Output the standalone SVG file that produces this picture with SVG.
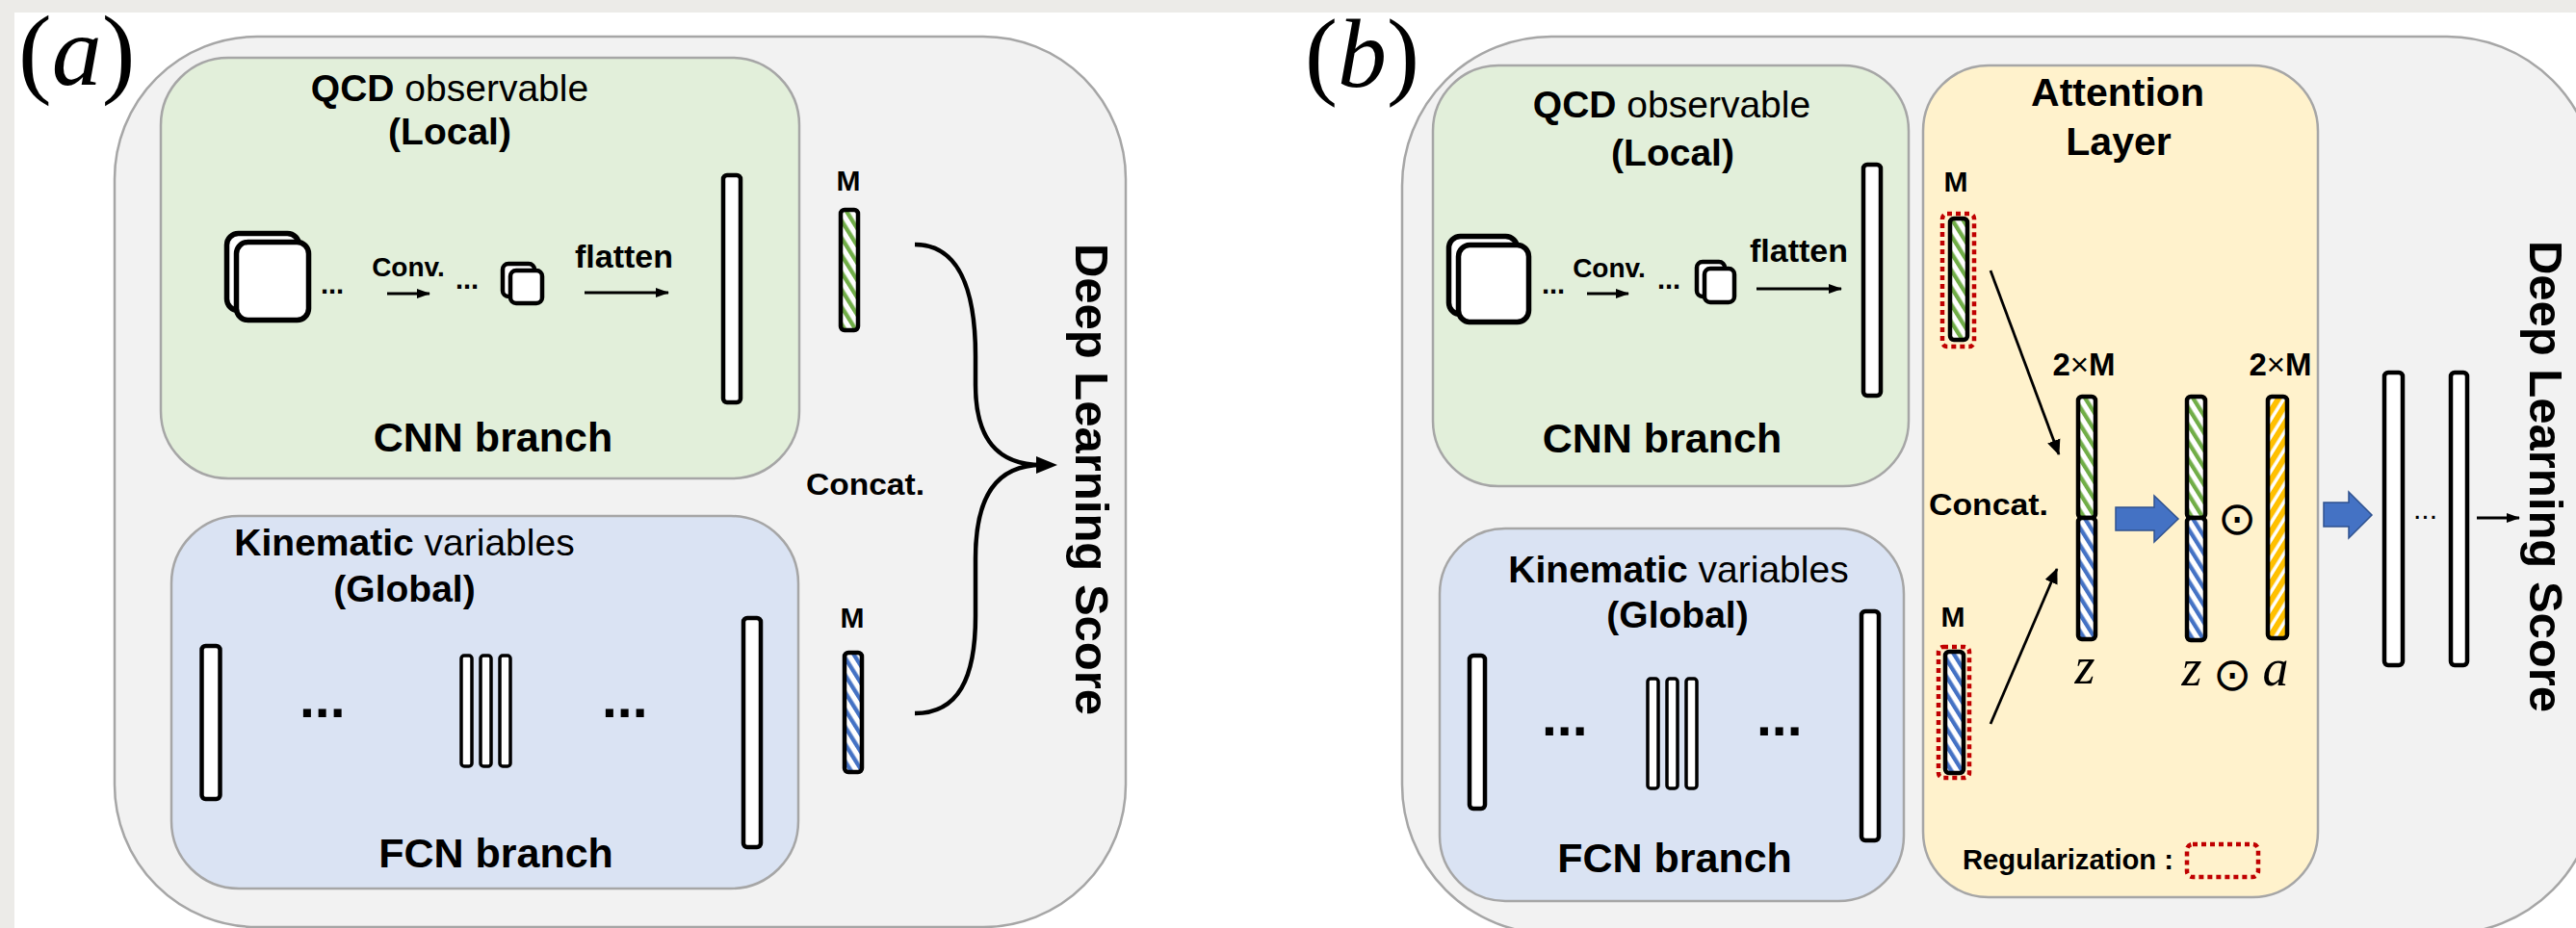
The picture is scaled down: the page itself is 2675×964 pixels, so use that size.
<svg xmlns="http://www.w3.org/2000/svg" width="2675" height="964" viewBox="0 0 2675 964">
<style>
text{font-family:"Liberation Sans",Arial,sans-serif;fill:#000}
.b{font-weight:bold}
.serif{font-family:"Liberation Serif","Times New Roman",serif}
.outer{fill:#f2f2f2;stroke:#a6a6a6;stroke-width:2.5}
.grn{fill:#e2efda;stroke:#a6a6a6;stroke-width:2.5}
.blu{fill:#dae3f3;stroke:#a6a6a6;stroke-width:2.5}
.att{fill:#fff2cc;stroke:#a6a6a6;stroke-width:2.5}
.bar{fill:#fff;stroke:#000;stroke-width:4.5}
.thin{fill:#fff;stroke:#000;stroke-width:3.5}
.sq{fill:#fff;stroke:#000;stroke-width:5.5}
.sqs{fill:#fff;stroke:#000;stroke-width:4.5}
.hg{fill:url(#pg);stroke:#000;stroke-width:4.5}
.hb{fill:url(#pb);stroke:#000;stroke-width:4.5}
.hy{fill:url(#py);stroke:#000;stroke-width:4.5}
.reg{fill:none;stroke:#c00000;stroke-width:4.5;stroke-dasharray:5 4}
.arr{fill:none;stroke:#000;stroke-width:2.8}
.blk{fill:#4472c4;stroke:#2f528f;stroke-width:1.5}
.brace{fill:none;stroke:#000;stroke-width:4.5}
</style>
<defs>
<pattern id="pg" width="9.5" height="9.5" patternUnits="userSpaceOnUse" patternTransform="rotate(-32)"><rect width="9.5" height="9.5" fill="#fff"/><rect width="4.3" height="9.5" fill="#70ad47"/></pattern>
<pattern id="pb" width="9.5" height="9.5" patternUnits="userSpaceOnUse" patternTransform="rotate(-32)"><rect width="9.5" height="9.5" fill="#fff"/><rect width="4.3" height="9.5" fill="#4472c4"/></pattern>
<pattern id="py" width="9.5" height="9.5" patternUnits="userSpaceOnUse" patternTransform="rotate(32)"><rect width="9.5" height="9.5" fill="#fff"/><rect width="6" height="9.5" fill="#ffc000"/></pattern>
<marker id="ah" markerUnits="userSpaceOnUse" markerWidth="16" markerHeight="16" viewBox="0 0 16 16" refX="15" refY="8" orient="auto"><path d="M0,1 L16,8 L0,15 z" fill="#000"/></marker>
<marker id="ahs" markerUnits="userSpaceOnUse" markerWidth="14" markerHeight="12" viewBox="0 0 14 12" refX="13" refY="6" orient="auto"><path d="M0,1 L14,6 L0,11 z" fill="#000"/></marker>
</defs>

<rect width="2675" height="964" fill="#fff"/>
<rect width="2675" height="13" fill="#ecebe8"/>
<rect width="15" height="964" fill="#ecebe8"/>

<!-- Panel (a) -->
<g id="label-a"><text class="serif" x="19" y="88" font-size="104">(<tspan font-style="italic">a</tspan>)</text></g>
<g id="outer-a"><rect class="outer" x="119" y="38" width="1050" height="925" rx="148"/></g>

<g id="cnn-a">
<rect class="grn" x="167" y="60" width="663" height="437" rx="70"/>
<text x="467" y="105" font-size="39" text-anchor="middle"><tspan class="b">QCD</tspan> observable</text>
<text class="b" x="467" y="150" font-size="39" text-anchor="middle">(Local)</text>
<rect class="sq" x="235.5" y="242.5" width="75" height="80" rx="12"/>
<rect class="sq" x="245.5" y="251.5" width="75" height="81" rx="12"/>
<text class="b" x="333" y="305" font-size="29">...</text>
<text class="b" x="424" y="287" font-size="28" text-anchor="middle">Conv.</text>
<text class="b" x="473" y="300" font-size="29">...</text>
<rect class="sqs" x="522" y="274" width="33" height="34" rx="6"/>
<rect class="sqs" x="530" y="281" width="33" height="34" rx="6"/>
<text class="b" x="648" y="278" font-size="34" text-anchor="middle">flatten</text>
<rect class="bar" x="751" y="182" width="18" height="236" rx="4"/>
<text class="b" x="512" y="469" font-size="43" text-anchor="middle">CNN branch</text>
</g>

<g id="fcn-a">
<rect class="blu" x="178" y="536" width="651" height="387" rx="70"/>
<text x="420" y="577" font-size="39" text-anchor="middle"><tspan class="b">Kinematic</tspan> variables</text>
<text class="b" x="420" y="625" font-size="39" text-anchor="middle">(Global)</text>
<rect class="bar" x="209.5" y="671" width="19" height="159" rx="4"/>
<text class="b" x="311" y="745" font-size="57">...</text>
<rect class="thin" x="479" y="681" width="11" height="115" rx="3"/>
<rect class="thin" x="499" y="681" width="11" height="115" rx="3"/>
<rect class="thin" x="519" y="681" width="11" height="115" rx="3"/>
<text class="b" x="625" y="745" font-size="57">...</text>
<rect class="bar" x="772" y="642" width="18" height="238" rx="4"/>
<text class="b" x="515" y="901" font-size="43" text-anchor="middle">FCN branch</text>
</g>

<g id="m-green-a">
<text class="b" x="881" y="198" font-size="30" text-anchor="middle">M</text>
<rect class="hg" x="873" y="218" width="18" height="125" rx="4"/>
</g>
<g id="m-blue-a">
<text class="b" x="885" y="652" font-size="30" text-anchor="middle">M</text>
<rect class="hb" x="877" y="678" width="18" height="124" rx="4"/>
</g>
<g id="concat-a"><text class="b" x="837" y="514" font-size="31" textLength="123" lengthAdjust="spacingAndGlyphs">Concat.</text></g>
<g id="score-a"><text class="b" font-size="49" text-anchor="middle" transform="translate(1117,498) rotate(90)">Deep Learning Score</text></g>

<!-- Panel (b) -->
<g id="label-b"><text class="serif" x="1355" y="90" font-size="102">(<tspan font-style="italic">b</tspan>)</text></g>
<g id="outer-b"><rect class="outer" x="1456" y="38" width="1240" height="932" rx="155"/></g>

<g id="cnn-b">
<rect class="grn" x="1488" y="68" width="494" height="437" rx="68"/>
<text x="1736" y="122" font-size="39" text-anchor="middle"><tspan class="b">QCD</tspan> observable</text>
<text class="b" x="1737" y="172" font-size="39" text-anchor="middle">(Local)</text>
<rect class="sq" x="1504.5" y="245.5" width="71" height="81" rx="12"/>
<rect class="sq" x="1514.5" y="254.5" width="73" height="80" rx="12"/>
<text class="b" x="1601" y="305" font-size="29">...</text>
<text class="b" x="1671" y="288" font-size="28" text-anchor="middle">Conv.</text>
<text class="b" x="1721" y="300" font-size="29">...</text>
<rect class="sqs" x="1762" y="272" width="29" height="36" rx="6"/>
<rect class="sqs" x="1770" y="279" width="31" height="35" rx="6"/>
<text class="b" x="1868" y="272" font-size="34" text-anchor="middle">flatten</text>
<rect class="bar" x="1935" y="171" width="18" height="240" rx="4"/>
<text class="b" x="1726" y="470" font-size="43" text-anchor="middle">CNN branch</text>
</g>

<g id="fcn-b">
<rect class="blu" x="1495" y="549" width="482" height="387" rx="68"/>
<text x="1743" y="605" font-size="39" text-anchor="middle"><tspan class="b">Kinematic</tspan> variables</text>
<text class="b" x="1742" y="652" font-size="39" text-anchor="middle">(Global)</text>
<rect class="bar" x="1526" y="681" width="16" height="159" rx="4"/>
<text class="b" x="1601" y="764" font-size="57">...</text>
<rect class="thin" x="1711" y="705" width="11" height="114" rx="3"/>
<rect class="thin" x="1731" y="705" width="11" height="114" rx="3"/>
<rect class="thin" x="1751" y="705" width="11" height="114" rx="3"/>
<text class="b" x="1824" y="764" font-size="57">...</text>
<rect class="bar" x="1933" y="635" width="18" height="238" rx="4"/>
<text class="b" x="1739" y="906" font-size="43" text-anchor="middle">FCN branch</text>
</g>

<g id="attention-b">
<rect class="att" x="1997" y="68" width="410" height="864" rx="68"/>
<text class="b" x="2199" y="110" font-size="41" text-anchor="middle">Attention</text>
<text class="b" x="2200" y="161" font-size="41" text-anchor="middle">Layer</text>
<text class="b" x="2031" y="199" font-size="30" text-anchor="middle">M</text>
<rect class="hg" x="2025" y="227" width="18" height="126" rx="4"/>
<rect class="reg" x="2017" y="222" width="33" height="138" rx="5"/>
<text class="b" x="2028" y="651" font-size="30" text-anchor="middle">M</text>
<rect class="hb" x="2020" y="677" width="19" height="126" rx="4"/>
<rect class="reg" x="2013" y="672" width="32" height="136" rx="5"/>
<text class="b" x="2003" y="535" font-size="31" textLength="124" lengthAdjust="spacingAndGlyphs">Concat.</text>
<text class="b" x="2164" y="390" font-size="33" text-anchor="middle">2<tspan font-weight="normal">×</tspan>M</text>
<text class="b" x="2368" y="390" font-size="33" text-anchor="middle">2<tspan font-weight="normal">×</tspan>M</text>
<rect class="hg" x="2158" y="412" width="18" height="126" rx="4"/>
<rect class="hb" x="2158" y="538" width="18" height="126" rx="4"/>
<rect class="hg" x="2271" y="412" width="19" height="126" rx="4"/>
<rect class="hb" x="2271" y="538" width="19" height="127" rx="4"/>
<text x="2323" y="555" font-size="48" font-family="DejaVu Sans" text-anchor="middle">⊙</text>
<rect class="hy" x="2355" y="412" width="20" height="251" rx="4"/>
<text class="serif" x="2165" y="710" font-size="54" font-style="italic" text-anchor="middle">z</text>
<text class="serif" x="2276" y="712" font-size="54" font-style="italic" text-anchor="middle">z</text>
<text x="2318" y="717" font-size="48" font-family="DejaVu Sans" text-anchor="middle">⊙</text>
<text class="serif" x="2363" y="712" font-size="54" font-style="italic" text-anchor="middle">a</text>
<text class="b" x="2038" y="903" font-size="30" textLength="219" lengthAdjust="spacingAndGlyphs">Regularization :</text>
<rect class="reg" x="2271" y="877" width="74" height="34" rx="6"/>
</g>

<g id="dense-b">
<rect class="bar" x="2476" y="387" width="19" height="304" rx="4"/>
<text x="2506" y="539" font-size="30">...</text>
<rect class="bar" x="2545" y="387" width="17" height="304" rx="4"/>
</g>
<g id="score-b"><text class="b" font-size="49" text-anchor="middle" transform="translate(2627,495) rotate(90)">Deep Learning Score</text></g>

<g id="connectors">
<line class="arr" x1="402" y1="305" x2="446" y2="305" marker-end="url(#ahs)"/>
<line class="arr" x1="607" y1="304" x2="694" y2="304" marker-end="url(#ahs)"/>
<path class="brace" d="M950,254 C995,254 1013,300 1013,370 L1013,400 C1013,455 1035,483 1082,483 M1082,483 C1035,483 1013,515 1013,580 L1013,640 C1013,705 995,741 950,741"/>
<path d="M1076,474 L1098,483 L1076,492 z" fill="#000"/>
<line class="arr" x1="1648" y1="305" x2="1691" y2="305" marker-end="url(#ahs)"/>
<line class="arr" x1="1824" y1="300" x2="1912" y2="300" marker-end="url(#ahs)"/>
<line class="arr" x1="2067" y1="281" x2="2138" y2="472" marker-end="url(#ah)"/>
<line class="arr" x1="2067" y1="752" x2="2136" y2="591" marker-end="url(#ah)"/>
<polygon class="blk" points="2197,527 2237,527 2237,515 2262,539 2237,563 2237,551 2197,551"/>
<polygon class="blk" points="2413,522 2439,522 2439,511 2463,535 2439,559 2439,547 2413,547"/>
<line class="arr" stroke-width="2.2" x1="2572" y1="538" x2="2616" y2="538" marker-end="url(#ahs)"/>
</g>
</svg>
